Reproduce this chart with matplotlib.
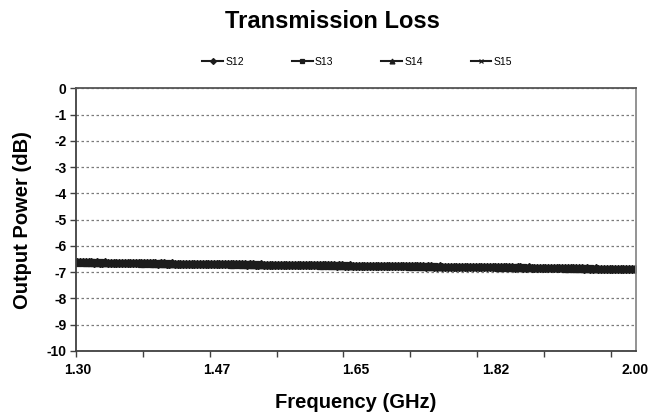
import numpy as np
import matplotlib
matplotlib.use("Agg")
import matplotlib.pyplot as plt

plt.rcParams["font.family"] = ["Liberation Sans", "DejaVu Sans"]

# x axis: 201 frequency points from 1.30 to 2.00 GHz, labelled every 50 points
label_idx = [0, 50, 100, 150, 200]
freq_labels = ["1.30", "1.47", "1.65", "1.82", "2.00"]
tick_every = 24

series_names = ["S12", "S13", "S14", "S15"]

s12 = [
    -6.63, -6.63, -6.62, -6.63, -6.63, -6.63, -6.64, -6.63,
    -6.64, -6.64, -6.63, -6.64, -6.64, -6.65, -6.64, -6.64,
    -6.65, -6.65, -6.64, -6.65, -6.65, -6.65, -6.66, -6.65,
    -6.66, -6.66, -6.65, -6.66, -6.66, -6.67, -6.66, -6.66,
    -6.67, -6.67, -6.66, -6.67, -6.67, -6.67, -6.68, -6.67,
    -6.68, -6.68, -6.67, -6.68, -6.68, -6.69, -6.68, -6.68,
    -6.69, -6.69, -6.68, -6.69, -6.69, -6.69, -6.70, -6.69,
    -6.70, -6.70, -6.69, -6.70, -6.70, -6.71, -6.70, -6.70,
    -6.71, -6.71, -6.70, -6.71, -6.71, -6.71, -6.72, -6.71,
    -6.72, -6.72, -6.71, -6.72, -6.72, -6.73, -6.72, -6.72,
    -6.73, -6.73, -6.72, -6.73, -6.73, -6.73, -6.74, -6.73,
    -6.74, -6.74, -6.73, -6.74, -6.74, -6.75, -6.74, -6.74,
    -6.75, -6.75, -6.74, -6.75, -6.75, -6.75, -6.76, -6.75,
    -6.76, -6.76, -6.75, -6.76, -6.76, -6.77, -6.76, -6.76,
    -6.77, -6.77, -6.76, -6.77, -6.77, -6.77, -6.78, -6.77,
    -6.78, -6.78, -6.77, -6.78, -6.78, -6.79, -6.78, -6.78,
    -6.79, -6.79, -6.78, -6.79, -6.79, -6.79, -6.80, -6.79,
    -6.80, -6.80, -6.79, -6.80, -6.80, -6.81, -6.80, -6.80,
    -6.81, -6.81, -6.80, -6.81, -6.81, -6.81, -6.82, -6.81,
    -6.82, -6.82, -6.81, -6.82, -6.82, -6.83, -6.82, -6.82,
    -6.83, -6.83, -6.82, -6.83, -6.83, -6.83, -6.84, -6.83,
    -6.84, -6.84, -6.83, -6.84, -6.84, -6.85, -6.84, -6.84,
    -6.85, -6.85, -6.84, -6.85, -6.85, -6.85, -6.86, -6.85,
    -6.86, -6.86, -6.85, -6.86, -6.86, -6.87, -6.86, -6.86,
    -6.87, -6.87, -6.86, -6.87, -6.87, -6.87, -6.88, -6.87, -6.87,
]

s13 = [
    -6.62, -6.63, -6.63, -6.63, -6.64, -6.63, -6.63, -6.64,
    -6.63, -6.64, -6.64, -6.64, -6.65, -6.64, -6.64, -6.65,
    -6.64, -6.65, -6.65, -6.65, -6.66, -6.65, -6.65, -6.66,
    -6.65, -6.66, -6.66, -6.66, -6.67, -6.66, -6.66, -6.67,
    -6.66, -6.67, -6.67, -6.67, -6.68, -6.67, -6.67, -6.68,
    -6.67, -6.68, -6.68, -6.68, -6.69, -6.68, -6.68, -6.69,
    -6.68, -6.69, -6.69, -6.69, -6.70, -6.69, -6.69, -6.70,
    -6.69, -6.70, -6.70, -6.70, -6.71, -6.70, -6.70, -6.71,
    -6.70, -6.71, -6.71, -6.71, -6.72, -6.71, -6.71, -6.72,
    -6.71, -6.72, -6.72, -6.72, -6.73, -6.72, -6.72, -6.73,
    -6.72, -6.73, -6.73, -6.73, -6.74, -6.73, -6.73, -6.74,
    -6.73, -6.74, -6.74, -6.74, -6.75, -6.74, -6.74, -6.75,
    -6.74, -6.75, -6.75, -6.75, -6.76, -6.75, -6.75, -6.76,
    -6.75, -6.76, -6.76, -6.76, -6.77, -6.76, -6.76, -6.77,
    -6.76, -6.77, -6.77, -6.77, -6.78, -6.77, -6.77, -6.78,
    -6.77, -6.78, -6.78, -6.78, -6.79, -6.78, -6.78, -6.79,
    -6.78, -6.79, -6.79, -6.79, -6.80, -6.79, -6.79, -6.80,
    -6.79, -6.80, -6.80, -6.80, -6.81, -6.80, -6.80, -6.81,
    -6.80, -6.81, -6.81, -6.81, -6.82, -6.81, -6.81, -6.82,
    -6.81, -6.82, -6.82, -6.82, -6.83, -6.82, -6.82, -6.83,
    -6.82, -6.83, -6.83, -6.83, -6.84, -6.83, -6.83, -6.84,
    -6.83, -6.84, -6.84, -6.84, -6.85, -6.84, -6.84, -6.85,
    -6.84, -6.85, -6.85, -6.85, -6.86, -6.85, -6.85, -6.86,
    -6.85, -6.86, -6.86, -6.86, -6.87, -6.86, -6.86, -6.87,
    -6.86, -6.87, -6.87, -6.87, -6.88, -6.87, -6.87, -6.88, -6.88,
]

s14 = [
    -6.64, -6.63, -6.64, -6.64, -6.63, -6.64, -6.64, -6.65,
    -6.65, -6.64, -6.65, -6.65, -6.64, -6.65, -6.65, -6.66,
    -6.66, -6.65, -6.66, -6.66, -6.65, -6.66, -6.66, -6.67,
    -6.67, -6.66, -6.67, -6.67, -6.66, -6.67, -6.67, -6.68,
    -6.68, -6.67, -6.68, -6.68, -6.67, -6.68, -6.68, -6.69,
    -6.69, -6.68, -6.69, -6.69, -6.68, -6.69, -6.69, -6.70,
    -6.70, -6.69, -6.70, -6.70, -6.69, -6.70, -6.70, -6.71,
    -6.71, -6.70, -6.71, -6.71, -6.70, -6.71, -6.71, -6.72,
    -6.72, -6.71, -6.72, -6.72, -6.71, -6.72, -6.72, -6.73,
    -6.73, -6.72, -6.73, -6.73, -6.72, -6.73, -6.73, -6.74,
    -6.74, -6.73, -6.74, -6.74, -6.73, -6.74, -6.74, -6.75,
    -6.75, -6.74, -6.75, -6.75, -6.74, -6.75, -6.75, -6.76,
    -6.76, -6.75, -6.76, -6.76, -6.75, -6.76, -6.76, -6.77,
    -6.77, -6.76, -6.77, -6.77, -6.76, -6.77, -6.77, -6.78,
    -6.78, -6.77, -6.78, -6.78, -6.77, -6.78, -6.78, -6.79,
    -6.79, -6.78, -6.79, -6.79, -6.78, -6.79, -6.79, -6.80,
    -6.80, -6.79, -6.80, -6.80, -6.79, -6.80, -6.80, -6.81,
    -6.81, -6.80, -6.81, -6.81, -6.80, -6.81, -6.81, -6.82,
    -6.82, -6.81, -6.82, -6.82, -6.81, -6.82, -6.82, -6.83,
    -6.83, -6.82, -6.83, -6.83, -6.82, -6.83, -6.83, -6.84,
    -6.84, -6.83, -6.84, -6.84, -6.83, -6.84, -6.84, -6.85,
    -6.85, -6.84, -6.85, -6.85, -6.84, -6.85, -6.85, -6.86,
    -6.86, -6.85, -6.86, -6.86, -6.85, -6.86, -6.86, -6.87,
    -6.87, -6.86, -6.87, -6.87, -6.86, -6.87, -6.87, -6.88,
    -6.88, -6.87, -6.88, -6.88, -6.87, -6.88, -6.88, -6.89, -6.89,
]

s15 = [
    -6.63, -6.64, -6.63, -6.63, -6.63, -6.64, -6.63, -6.63,
    -6.64, -6.65, -6.64, -6.64, -6.64, -6.65, -6.64, -6.64,
    -6.65, -6.66, -6.65, -6.65, -6.65, -6.66, -6.65, -6.65,
    -6.66, -6.67, -6.66, -6.66, -6.66, -6.67, -6.66, -6.66,
    -6.67, -6.68, -6.67, -6.67, -6.67, -6.68, -6.67, -6.67,
    -6.68, -6.69, -6.68, -6.68, -6.68, -6.69, -6.68, -6.68,
    -6.69, -6.70, -6.69, -6.69, -6.69, -6.70, -6.69, -6.69,
    -6.70, -6.71, -6.70, -6.70, -6.70, -6.71, -6.70, -6.70,
    -6.71, -6.72, -6.71, -6.71, -6.71, -6.72, -6.71, -6.71,
    -6.72, -6.73, -6.72, -6.72, -6.72, -6.73, -6.72, -6.72,
    -6.73, -6.74, -6.73, -6.73, -6.73, -6.74, -6.73, -6.73,
    -6.74, -6.75, -6.74, -6.74, -6.74, -6.75, -6.74, -6.74,
    -6.75, -6.76, -6.75, -6.75, -6.75, -6.76, -6.75, -6.75,
    -6.76, -6.77, -6.76, -6.76, -6.76, -6.77, -6.76, -6.76,
    -6.77, -6.78, -6.77, -6.77, -6.77, -6.78, -6.77, -6.77,
    -6.78, -6.79, -6.78, -6.78, -6.78, -6.79, -6.78, -6.78,
    -6.79, -6.80, -6.79, -6.79, -6.79, -6.80, -6.79, -6.79,
    -6.80, -6.81, -6.80, -6.80, -6.80, -6.81, -6.80, -6.80,
    -6.81, -6.82, -6.81, -6.81, -6.81, -6.82, -6.81, -6.81,
    -6.82, -6.83, -6.82, -6.82, -6.82, -6.83, -6.82, -6.82,
    -6.83, -6.84, -6.83, -6.83, -6.83, -6.84, -6.83, -6.83,
    -6.84, -6.85, -6.84, -6.84, -6.84, -6.85, -6.84, -6.84,
    -6.85, -6.86, -6.85, -6.85, -6.85, -6.86, -6.85, -6.85,
    -6.86, -6.87, -6.86, -6.86, -6.86, -6.87, -6.86, -6.86,
    -6.87, -6.88, -6.87, -6.87, -6.87, -6.88, -6.87, -6.87, -6.88,
]

all_series = [s12, s13, s14, s15]
markers = ["D", "s", "^", "x"]
marker_sizes = [3.8, 4.2, 4.4, 4.2]
ink = "#1c1c1c"

fig = plt.figure(figsize=(6.64, 4.17), dpi=100)
ax = fig.add_axes([0.1145, 0.1583, 0.8433, 0.6299])

handles = []
for name, vals, mk, ms in zip(series_names, all_series, markers, marker_sizes):
    x = np.arange(len(vals))
    h, = ax.plot(x, vals, color=ink, linewidth=1.5, marker=mk, markersize=ms,
                 markeredgewidth=0.9, label=name)
    handles.append(h)

n = len(s12)
ax.set_xlim(-0.5, n - 0.5)
ax.set_ylim(-10, 0)

# dotted horizontal gridlines
ax.set_yticks(np.arange(-10, 1, 1))
ax.set_yticklabels([str(v) for v in range(-10, 1)], fontsize=10, fontweight="bold")
ax.yaxis.grid(True, linestyle=(0, (2, 2)), color="#7a7a7a", linewidth=0.9)
ax.set_axisbelow(True)

# category-style tick marks between points, labels centred on points
ax.set_xticks(np.arange(-0.5, n, tick_every))
ax.set_xticklabels([])
ax.set_xticks(label_idx, minor=True)
ax.set_xticklabels(freq_labels, minor=True, fontsize=10, fontweight="bold")
ax.tick_params(axis="x", which="major", length=4, width=1, color="#404040", direction="out")
ax.tick_params(axis="x", which="minor", length=0, pad=9)
ax.tick_params(axis="y", length=4, width=1, color="#404040", pad=3)

for side, col in [("left", "#404040"), ("bottom", "#404040"),
                  ("top", "#555555"), ("right", "#8a8a8a")]:
    ax.spines[side].set_color(col)
    ax.spines[side].set_linewidth(1.3)

ax.set_xlabel("Frequency (GHz)", fontsize=14.5, fontweight="bold", labelpad=11)
ax.set_ylabel("Output Power (dB)", fontsize=14.5, fontweight="bold", labelpad=10)

fig.suptitle("Transmission Loss", fontsize=17, fontweight="bold", y=0.975)

fig.legend(handles=handles, loc="center", bbox_to_anchor=(0.538, 0.851), ncol=4,
           frameon=False, fontsize=7.5, handlelength=2.0, handletextpad=0.2,
           columnspacing=4.6, markerscale=0.8)

fig.savefig("out.png", dpi=100)
plt.close(fig)
